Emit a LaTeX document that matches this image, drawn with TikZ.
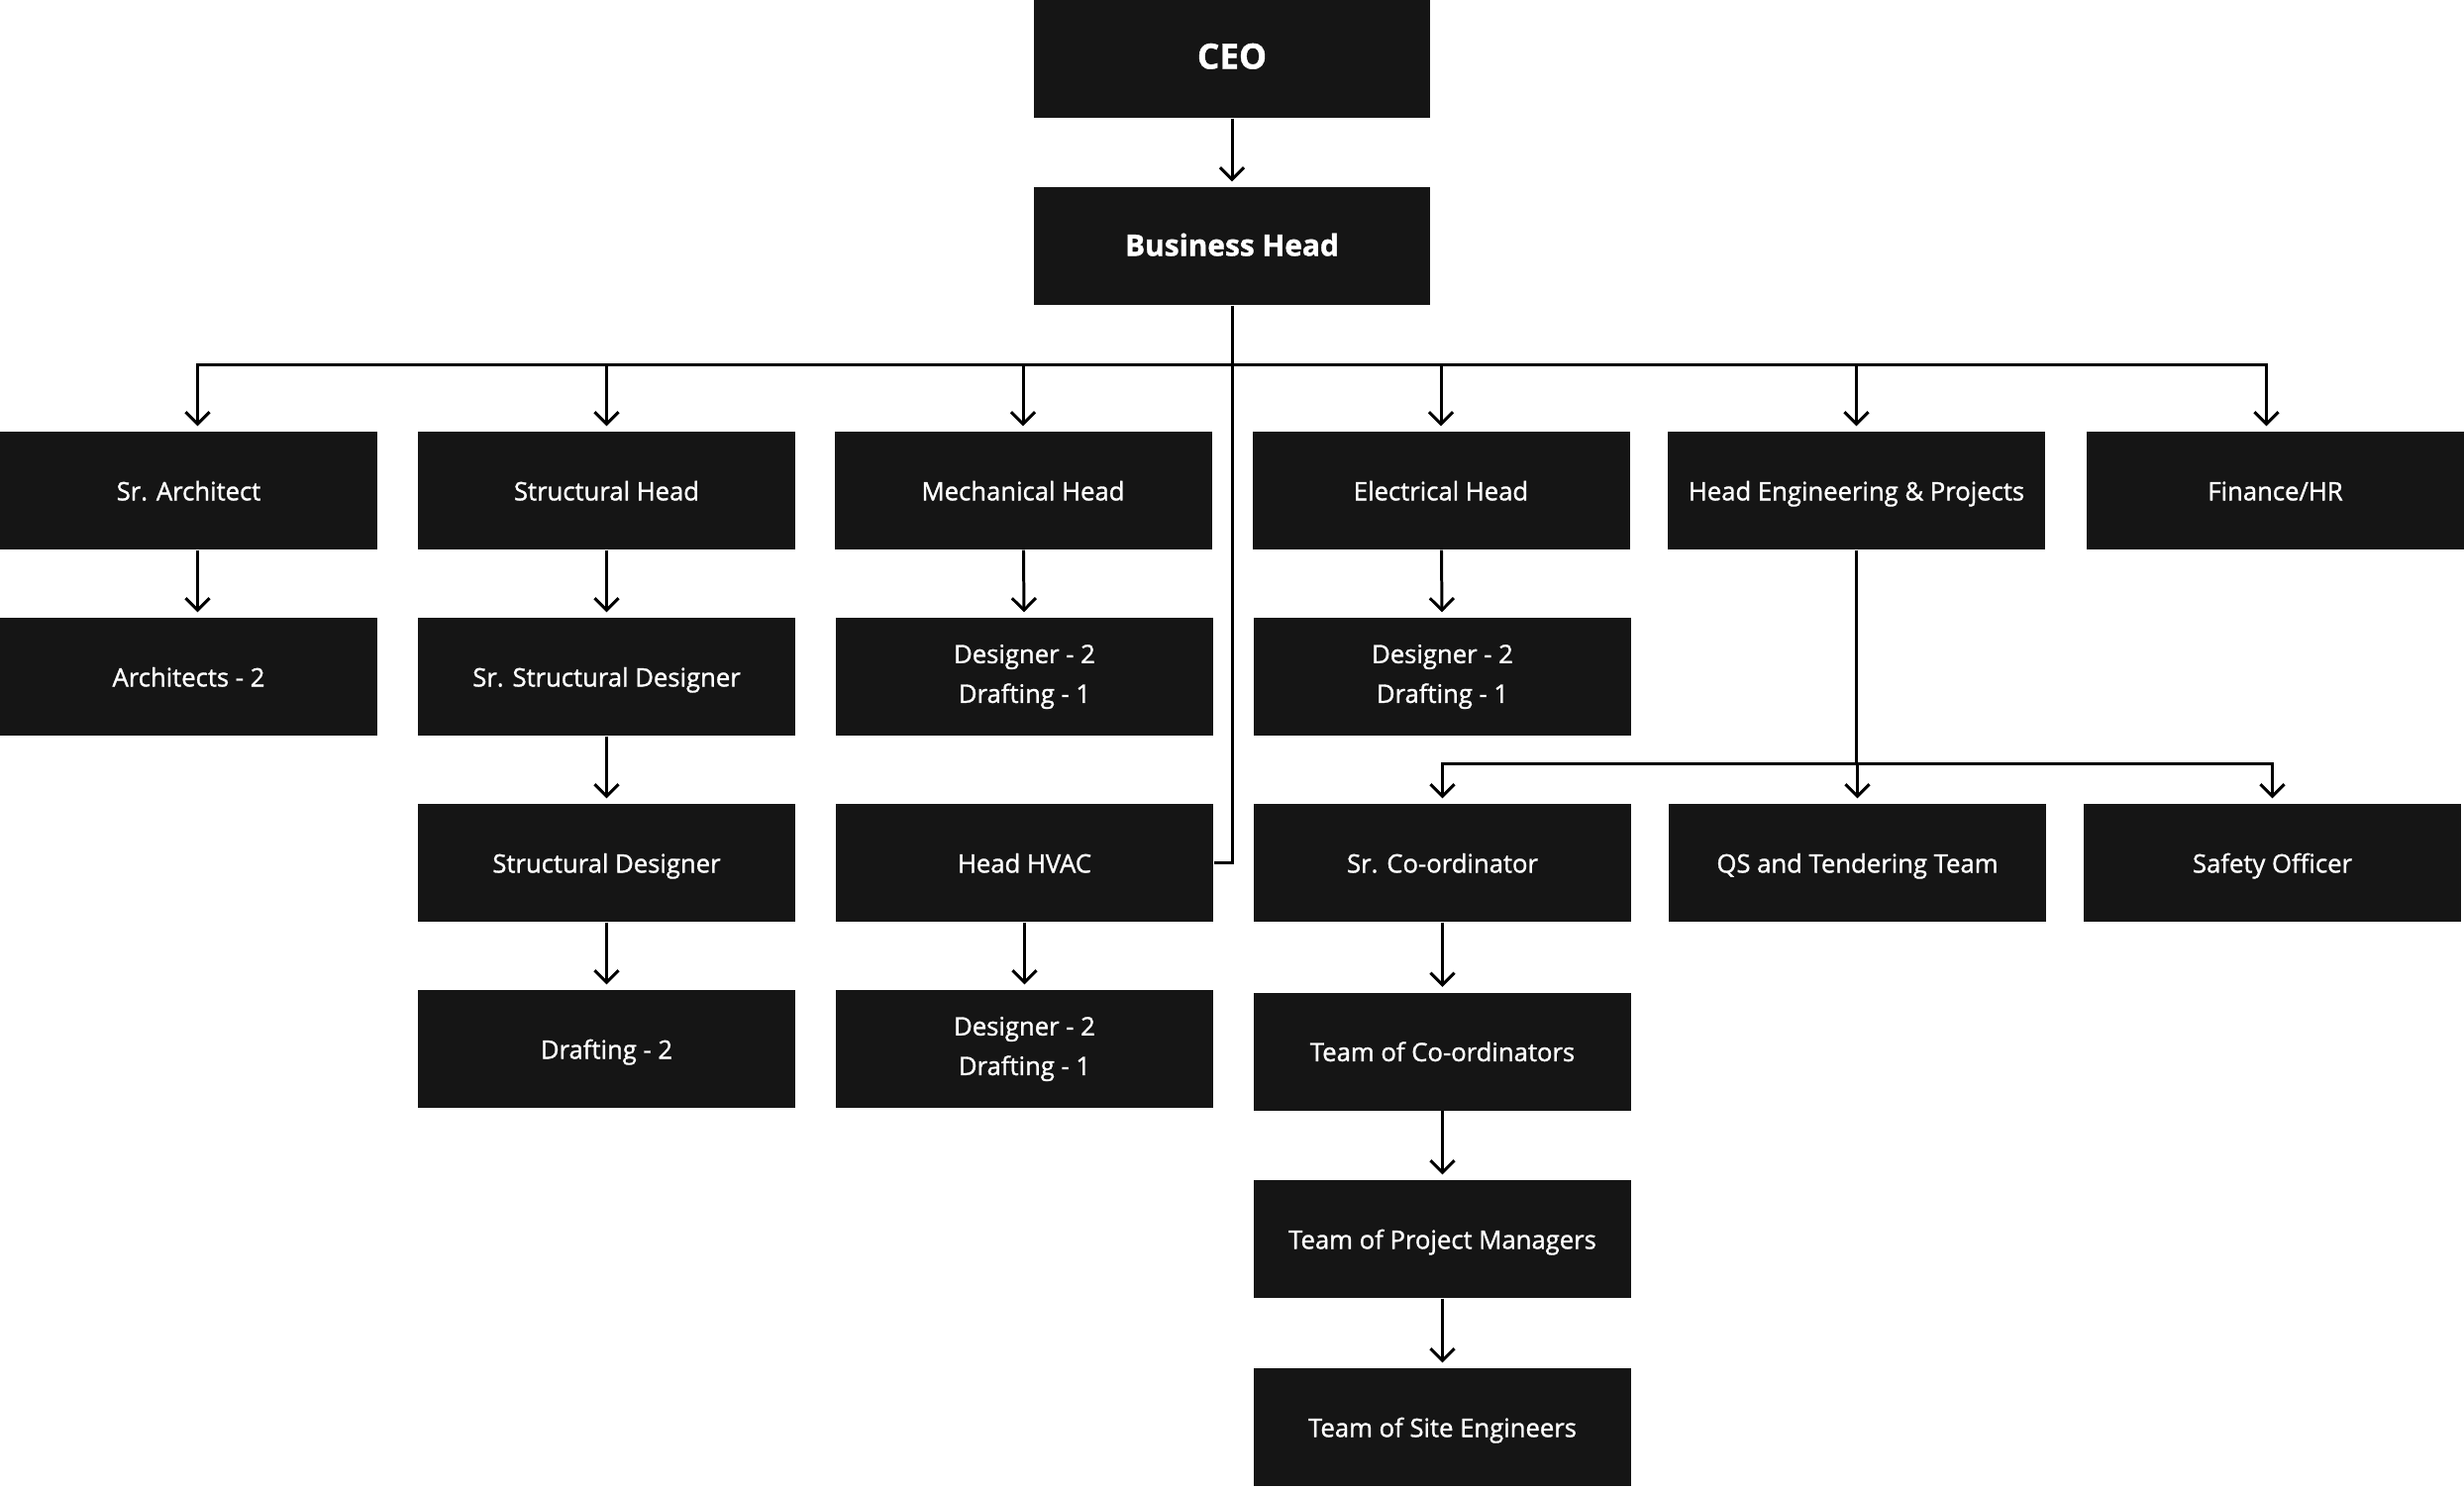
\documentclass[tikz,border=0pt]{standalone}
\usepackage{fontspec}
\setmainfont{Open Sans}[FakeBold=1.2]
\usepackage{tikz}
\usetikzlibrary{calc, arrows.meta}
\definecolor{boxfill}{HTML}{151515}
\tikzset{
  box/.style={fill=boxfill, text=white, minimum width=3.81cm, minimum height=1.19cm,
    inner sep=0pt, align=center, font=\fontsize{7.3}{11.4}\selectfont,
    text height=1.45ex, text depth=0.4ex},
  twoline/.style={box, text height=, text depth=},
  topbox/.style={box, minimum width=4cm, font=\fontsize{8.5}{11}\selectfont\bfseries},
  link/.style={line width=0.85pt, black},
  arr/.style={link, -{Straight Barb[length=1.2mm, width=2.4mm, line width=0.85pt]}, shorten >=0.5mm}
}
\begin{document}
\begin{tikzpicture}
    \useasboundingbox (0,0) rectangle (24.88,-15.03);
    %上の二つの箱
    \node [topbox, font=\fontsize{10}{11}\selectfont\bfseries] (ceo) at (12.44,-0.595) {CEO};
    \node [topbox] (bh) at (12.44,-2.485) {Business Head};
    %一段目の部門
    \node [box] (sa) at (1.905,-4.955) {Sr. Architect};
    \node [box] (sh) at (6.125,-4.955) {Structural Head};
    \node [box] (mh) at (10.33,-4.955) {Mechanical Head};
    \node [box] (eh) at (14.55,-4.955) {Electrical Head};
    \node [box] (he) at (18.745,-4.955) {Head Engineering \& Projects};
    \node [box] (fh) at (22.975,-4.955) {Finance/HR};
    %下の段
    \node [box] (ar) at (1.905,-6.835) {Architects - 2};
    \node [box] (ssd) at (6.125,-6.835) {Sr. Structural Designer};
    \node [twoline] (md) at (10.345,-6.835) {Designer - 2\\Drafting - 1};
    \node [twoline] (ed) at (14.565,-6.835) {Designer - 2\\Drafting - 1};
    \node [box] (sd) at (6.125,-8.715) {Structural Designer};
    \node [box] (hv) at (10.345,-8.715) {Head HVAC};
    \node [box] (sco) at (14.565,-8.715) {Sr. Co-ordinator};
    \node [box] (qs) at (18.755,-8.715) {QS and Tendering Team};
    \node [box] (so) at (22.945,-8.715) {Safety Officer};
    \node [box] (dr) at (6.125,-10.595) {Drafting - 2};
    \node [twoline] (hd) at (10.345,-10.595) {Designer - 2\\Drafting - 1};
    \node [box] (tco) at (14.565,-10.62) {Team of Co-ordinators};
    \node [box] (tpm) at (14.565,-12.515) {Team of Project Managers};
    \node [box] (tse) at (14.565,-14.415) {Team of Site Engineers};
    %分岐点
    \coordinate (bus) at (12.44,-3.68);
    \coordinate (hebus) at (18.745,-7.71);
    %線と矢印
    \draw [arr] (ceo) -- (bh);
    \draw [link] (bh.south) |- (hv.east);
    \draw [arr] (bus) -| ([xshift=0.09cm]sa.north);
    \foreach \d in {sh, mh, eh, he}
      \draw [arr] (bus) -| (\d.north);
    \draw [arr] (bus) -| ([xshift=-0.09cm]fh.north);
    \draw [arr] ([xshift=0.09cm]sa.south) -- ([xshift=0.09cm]ar.north);
    \draw [arr] (sh) -- (ssd);
    \draw [arr] (ssd) -- (sd);
    \draw [arr] (sd) -- (dr);
    \draw [arr] (mh) -- (md);
    \draw [arr] (hv) -- (hd);
    \draw [arr] (eh) -- (ed);
    \draw [link] (he.south) -- (hebus);
    \foreach \d in {sco, qs, so}
      \draw [arr] (hebus) -| (\d.north);
    \draw [arr] (sco) -- (tco);
    \draw [arr] (tco) -- (tpm);
    \draw [arr] (tpm) -- (tse);
  \end{tikzpicture}
\end{document}
